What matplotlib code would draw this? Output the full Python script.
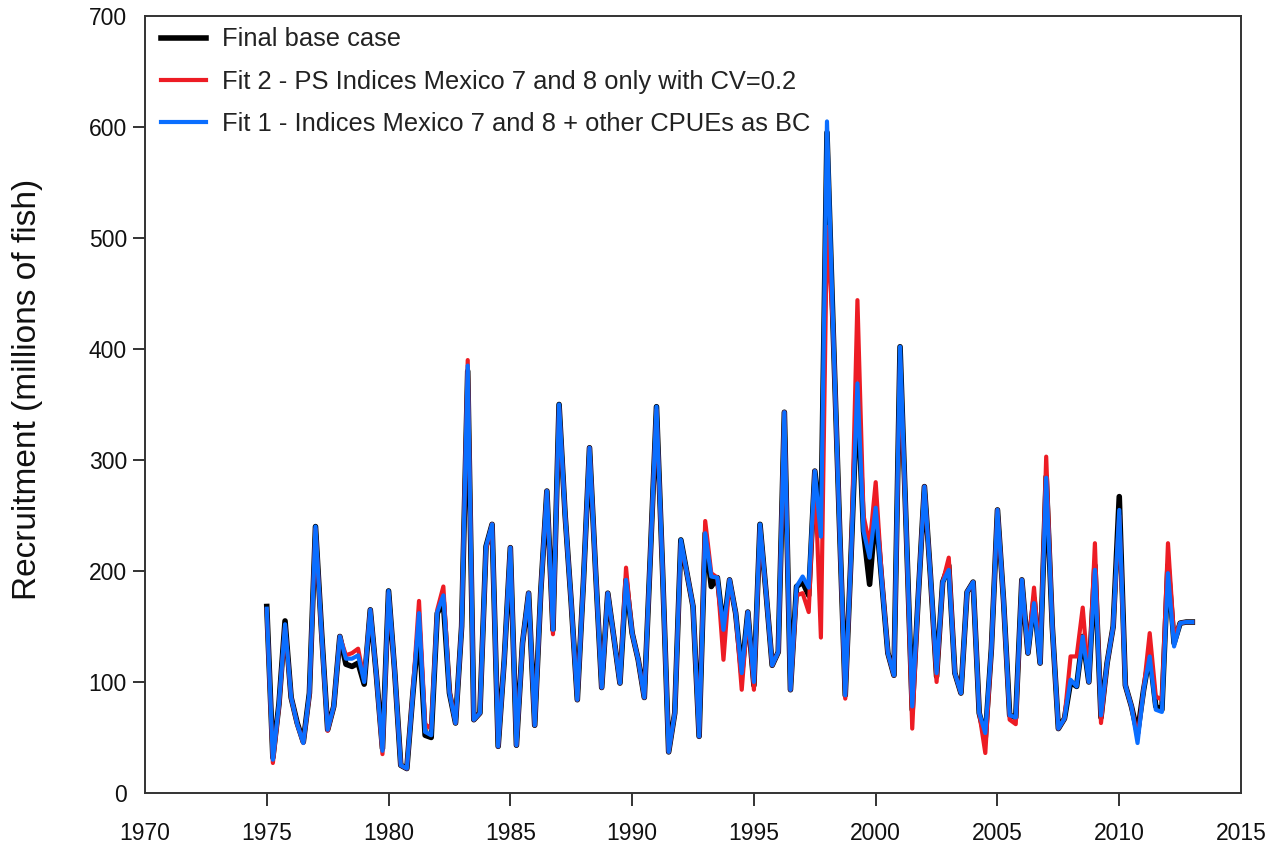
import numpy as np
import matplotlib
matplotlib.use("Agg")
import matplotlib.pyplot as plt

plt.rcParams['font.family'] = ['Liberation Sans', 'DejaVu Sans']

# quarterly recruitment, 1975.0 - 2013.0
time = np.arange(1975, 2013.01, 0.25)

base_case = [
    168, 32, 80, 155,   86, 63, 46, 90,   240, 145, 57, 78,   141, 116, 114, 117,
    98, 165, 106, 40,   182, 110, 25, 22,   90, 150, 52, 50,   162, 172, 90, 63,
    150, 380, 66, 72,   222, 242, 42, 120,   221, 43, 135, 180,   61, 182, 272, 147,
    350, 250, 171, 84,   190, 311, 200, 95,   180, 140, 99, 192,   144, 120, 86, 215,
    348, 200, 37, 72,   228, 198, 168, 51,   234, 186, 194, 147,   192, 162, 108, 163,
    97, 242, 180, 115,   127, 343, 93, 186,   190, 178, 290, 237,   595, 420, 250, 88,
    220, 365, 236, 188,   255, 190, 126, 106,   402, 240, 75, 178,   276, 195, 105, 190,
    205, 108, 90, 181,   190, 72, 50, 130,   255, 173, 70, 68,   192, 126, 175, 117,
    285, 150, 58, 67,   100, 96, 141, 100,   205, 68, 117, 150,   267, 97, 78, 54,
    93, 125, 78, 75,   205, 135, 153, 154,   154,
]

fit2 = [
    165, 27, 78, 150,   86, 62, 45, 88,   238, 143, 56, 78,   141, 124, 126, 130,
    102, 165, 106, 35,   180, 110, 25, 22,   92, 173, 62, 58,   165, 186, 92, 63,
    150, 390, 66, 72,   220, 242, 42, 120,   221, 43, 135, 180,   61, 182, 272, 143,
    348, 250, 171, 84,   190, 311, 200, 95,   180, 140, 99, 203,   144, 120, 86, 215,
    345, 200, 37, 72,   225, 198, 168, 51,   245, 198, 194, 120,   192, 162, 93, 163,
    93, 240, 180, 115,   127, 343, 93, 178,   180, 163, 290, 140,   510, 420, 250, 85,
    220, 444, 250, 223,   280, 195, 126, 106,   390, 240, 58, 178,   276, 195, 100, 190,
    212, 108, 90, 181,   190, 72, 36, 130,   255, 173, 66, 62,   192, 126, 185, 117,
    303, 150, 58, 67,   123, 123, 167, 100,   225, 63, 117, 150,   250, 97, 78, 50,
    93, 144, 87, 84,   225, 140, 153, 154,   154,
]

fit1 = [
    166, 30, 80, 152,   86, 62, 45, 90,   240, 143, 57, 78,   141, 121, 121, 124,
    100, 165, 106, 38,   182, 110, 25, 22,   90, 162, 55, 52,   163, 178, 90, 63,
    150, 385, 66, 72,   222, 242, 42, 120,   221, 43, 135, 180,   61, 182, 272, 147,
    350, 250, 171, 84,   190, 311, 200, 95,   180, 140, 99, 192,   144, 120, 86, 215,
    348, 200, 37, 72,   228, 198, 168, 51,   234, 195, 194, 147,   192, 162, 108, 163,
    100, 242, 180, 115,   127, 343, 93, 186,   195, 185, 290, 231,   605, 420, 250, 88,
    220, 369, 236, 212,   257, 190, 126, 106,   402, 240, 78, 178,   276, 195, 108, 190,
    201, 108, 90, 181,   190, 72, 54, 130,   255, 173, 70, 68,   192, 126, 171, 117,
    284, 150, 58, 67,   102, 96, 141, 100,   201, 70, 117, 150,   255, 97, 78, 45,
    93, 123, 75, 73,   198, 132, 153, 154,   154,
]

labels = ['Final base case',
          'Fit 2 - PS Indices Mexico 7 and 8 only with CV=0.2',
          'Fit 1 - Indices Mexico 7 and 8 + other CPUEs as BC']

fig = plt.figure(figsize=(12.73, 8.5), dpi=100)
ax = fig.add_axes([0.1139, 0.0671, 0.8610, 0.9141])

ax.plot(time, base_case, color='black', lw=4.0, label=labels[0], solid_joinstyle='round')
ax.plot(time, fit2, color='#ED1C24', lw=3.0, label=labels[1], solid_joinstyle='round')
ax.plot(time, fit1, color='#0A6EFF', lw=3.0, label=labels[2], solid_joinstyle='round')

ax.set_xlim(1970, 2015)
ax.set_ylim(0, 700)
ax.set_xticks(np.arange(1970, 2016, 5))
ax.set_yticks(np.arange(0, 701, 100))

for s in ax.spines.values():
    s.set_color('#333333')
    s.set_linewidth(1.4)

ax.tick_params(direction='out', length=9, width=1.4, color='#333333',
               labelsize=16.5, labelcolor='#111111')
ax.tick_params(axis='x', pad=12)
ax.tick_params(axis='y', pad=4)
# no tick marks at the corners
for t in (ax.xaxis.get_major_ticks()[0], ax.xaxis.get_major_ticks()[-1],
          ax.yaxis.get_major_ticks()[0], ax.yaxis.get_major_ticks()[-1]):
    t.tick1line.set_visible(False)

ax.set_ylabel('Recruitment (millions of fish)', fontsize=24, color='#111111')
ax.yaxis.set_label_coords(-0.093, 0.52)

leg = ax.legend(loc='upper left', frameon=False, fontsize=18.4, handlelength=1.75,
                handletextpad=0.65, labelspacing=0.72, borderaxespad=0.15,
                borderpad=0.3, bbox_to_anchor=(0.004, 1.0))
for txt in leg.get_texts():
    txt.set_color('#222222')

fig.savefig('out.png', dpi=100)
